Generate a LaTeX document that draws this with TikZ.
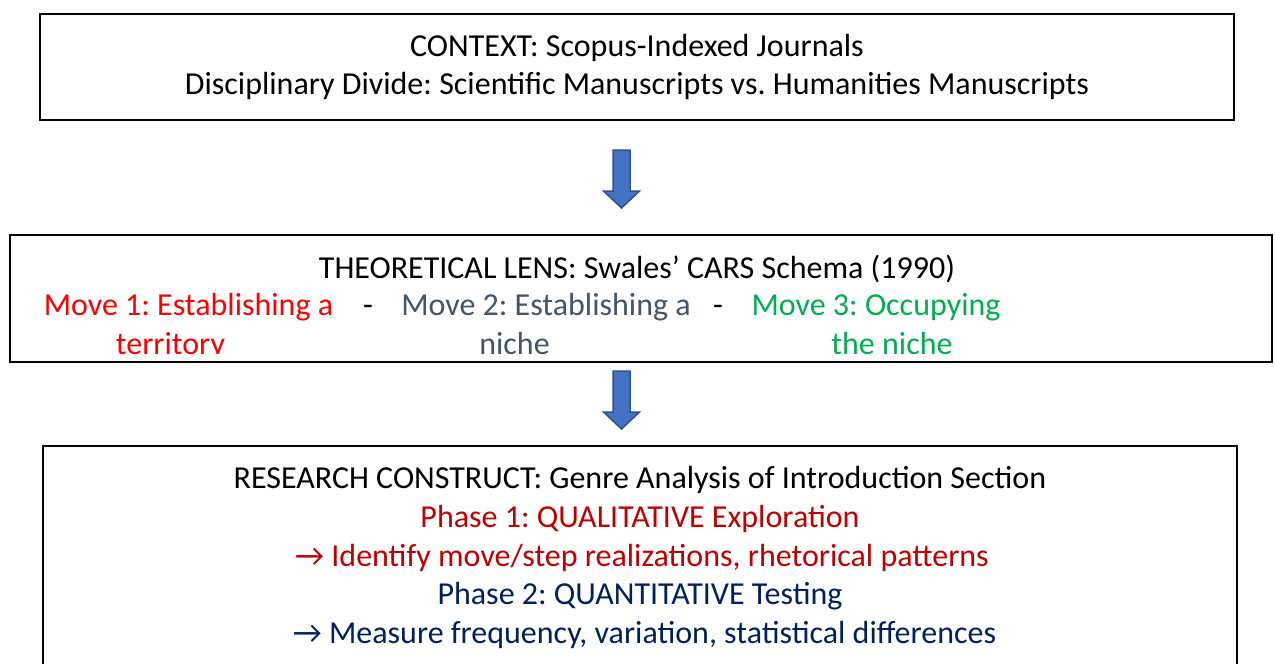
\documentclass[tikz,border=0pt]{standalone}
\usepackage{fontspec}
\setmainfont{Carlito}
\newfontfamily\dejavu{DejaVu Sans}
\definecolor{mvred}{HTML}{FF0000}
\definecolor{mvgray}{HTML}{44546A}
\definecolor{mvgreen}{HTML}{00B050}
\definecolor{phred}{HTML}{C00000}
\definecolor{phblue}{HTML}{002060}
\definecolor{arrfill}{HTML}{4472C4}
\definecolor{arredge}{HTML}{2F528F}
\newcommand{\rarr}{{\iffontchar\font"2192 →\else{\dejavu →}\fi}}
\begin{document}
\frenchspacing
\begin{tikzpicture}[x=1pt,y=-1pt,
  frame/.style={draw=black,line width=1.6pt,rectangle,inner sep=0pt},
  txt/.style={inner sep=0pt,anchor=base,font=\fontsize{32}{38.5}\selectfont},
  blockarrow/.style={fill=arrfill,draw=arredge,line width=1.5pt,line join=miter}]
\useasboundingbox (0,0) rectangle (1275,664);
\clip (0,0) rectangle (1275,664);
\fill[white] (0,0) rectangle (1275,664);
% boxes
\node[frame,minimum width=1194pt,minimum height=106pt] (ctx) at (637,67) {};
\node[frame,minimum width=1262pt,minimum height=127pt] (lens) at (641,298.5) {};
\node[frame,minimum width=1194pt,minimum height=240pt] (cons) at (640,566) {};
% box 1 text
\node[txt] (c1) at (637,56) {CONTEXT: Scopus-Indexed Journals};
\node[txt] (c2) at (637,94) {Disciplinary Divide: Scientific Manuscripts vs. Humanities Manuscripts};
% box 2 text
\node[txt] (l1) at (637,278) {THEORETICAL LENS: Swales’ CARS Schema (1990)};
\begin{scope}
\clip (12,237) rectangle (1270,353);
\node[txt,text=mvred] (m1a) at (188.5,315) {Move 1: Establishing a};
\node[txt,text=mvred] (m1b) at (170.5,354) {territory};
\node[txt] (d1) at (368,315) {-};
\node[txt,text=mvgray] (m2a) at (546,315) {Move 2: Establishing a};
\node[txt,text=mvgray] (m2b) at (514.5,354) {niche};
\node[txt] (d2) at (718,315) {-};
\node[txt,text=mvgreen] (m3a) at (876,315) {Move 3: Occupying};
\node[txt,text=mvgreen] (m3b) at (892,354) {the niche};
\end{scope}
% box 3 text
\node[txt] (r1) at (640,488) {RESEARCH CONSTRUCT: Genre Analysis of Introduction Section};
\node[txt,text=phred] (r2) at (640,527) {Phase 1: QUALITATIVE Exploration};
\node[txt,text=phred] (r3) at (642,566) {\rarr\ Identify move/step realizations, rhetorical patterns};
\node[txt,text=phblue] (r4) at (640,604) {Phase 2: QUANTITATIVE Testing};
\node[txt,text=phblue] (r5) at (644.5,643) {\rarr\ Measure frequency, variation, statistical differences};
% block arrows
\coordinate (a1) at (621.5,150);
\coordinate (a2) at (621.5,371);
\foreach \a in {a1,a2}{
  \draw[blockarrow,shift={(\a)}] (-8.5,0) -- (8.5,0) -- (8.5,41) -- (18,41) -- (0,58) -- (-18,41) -- (-8.5,41) -- cycle;
}
\end{tikzpicture}
\end{document}
